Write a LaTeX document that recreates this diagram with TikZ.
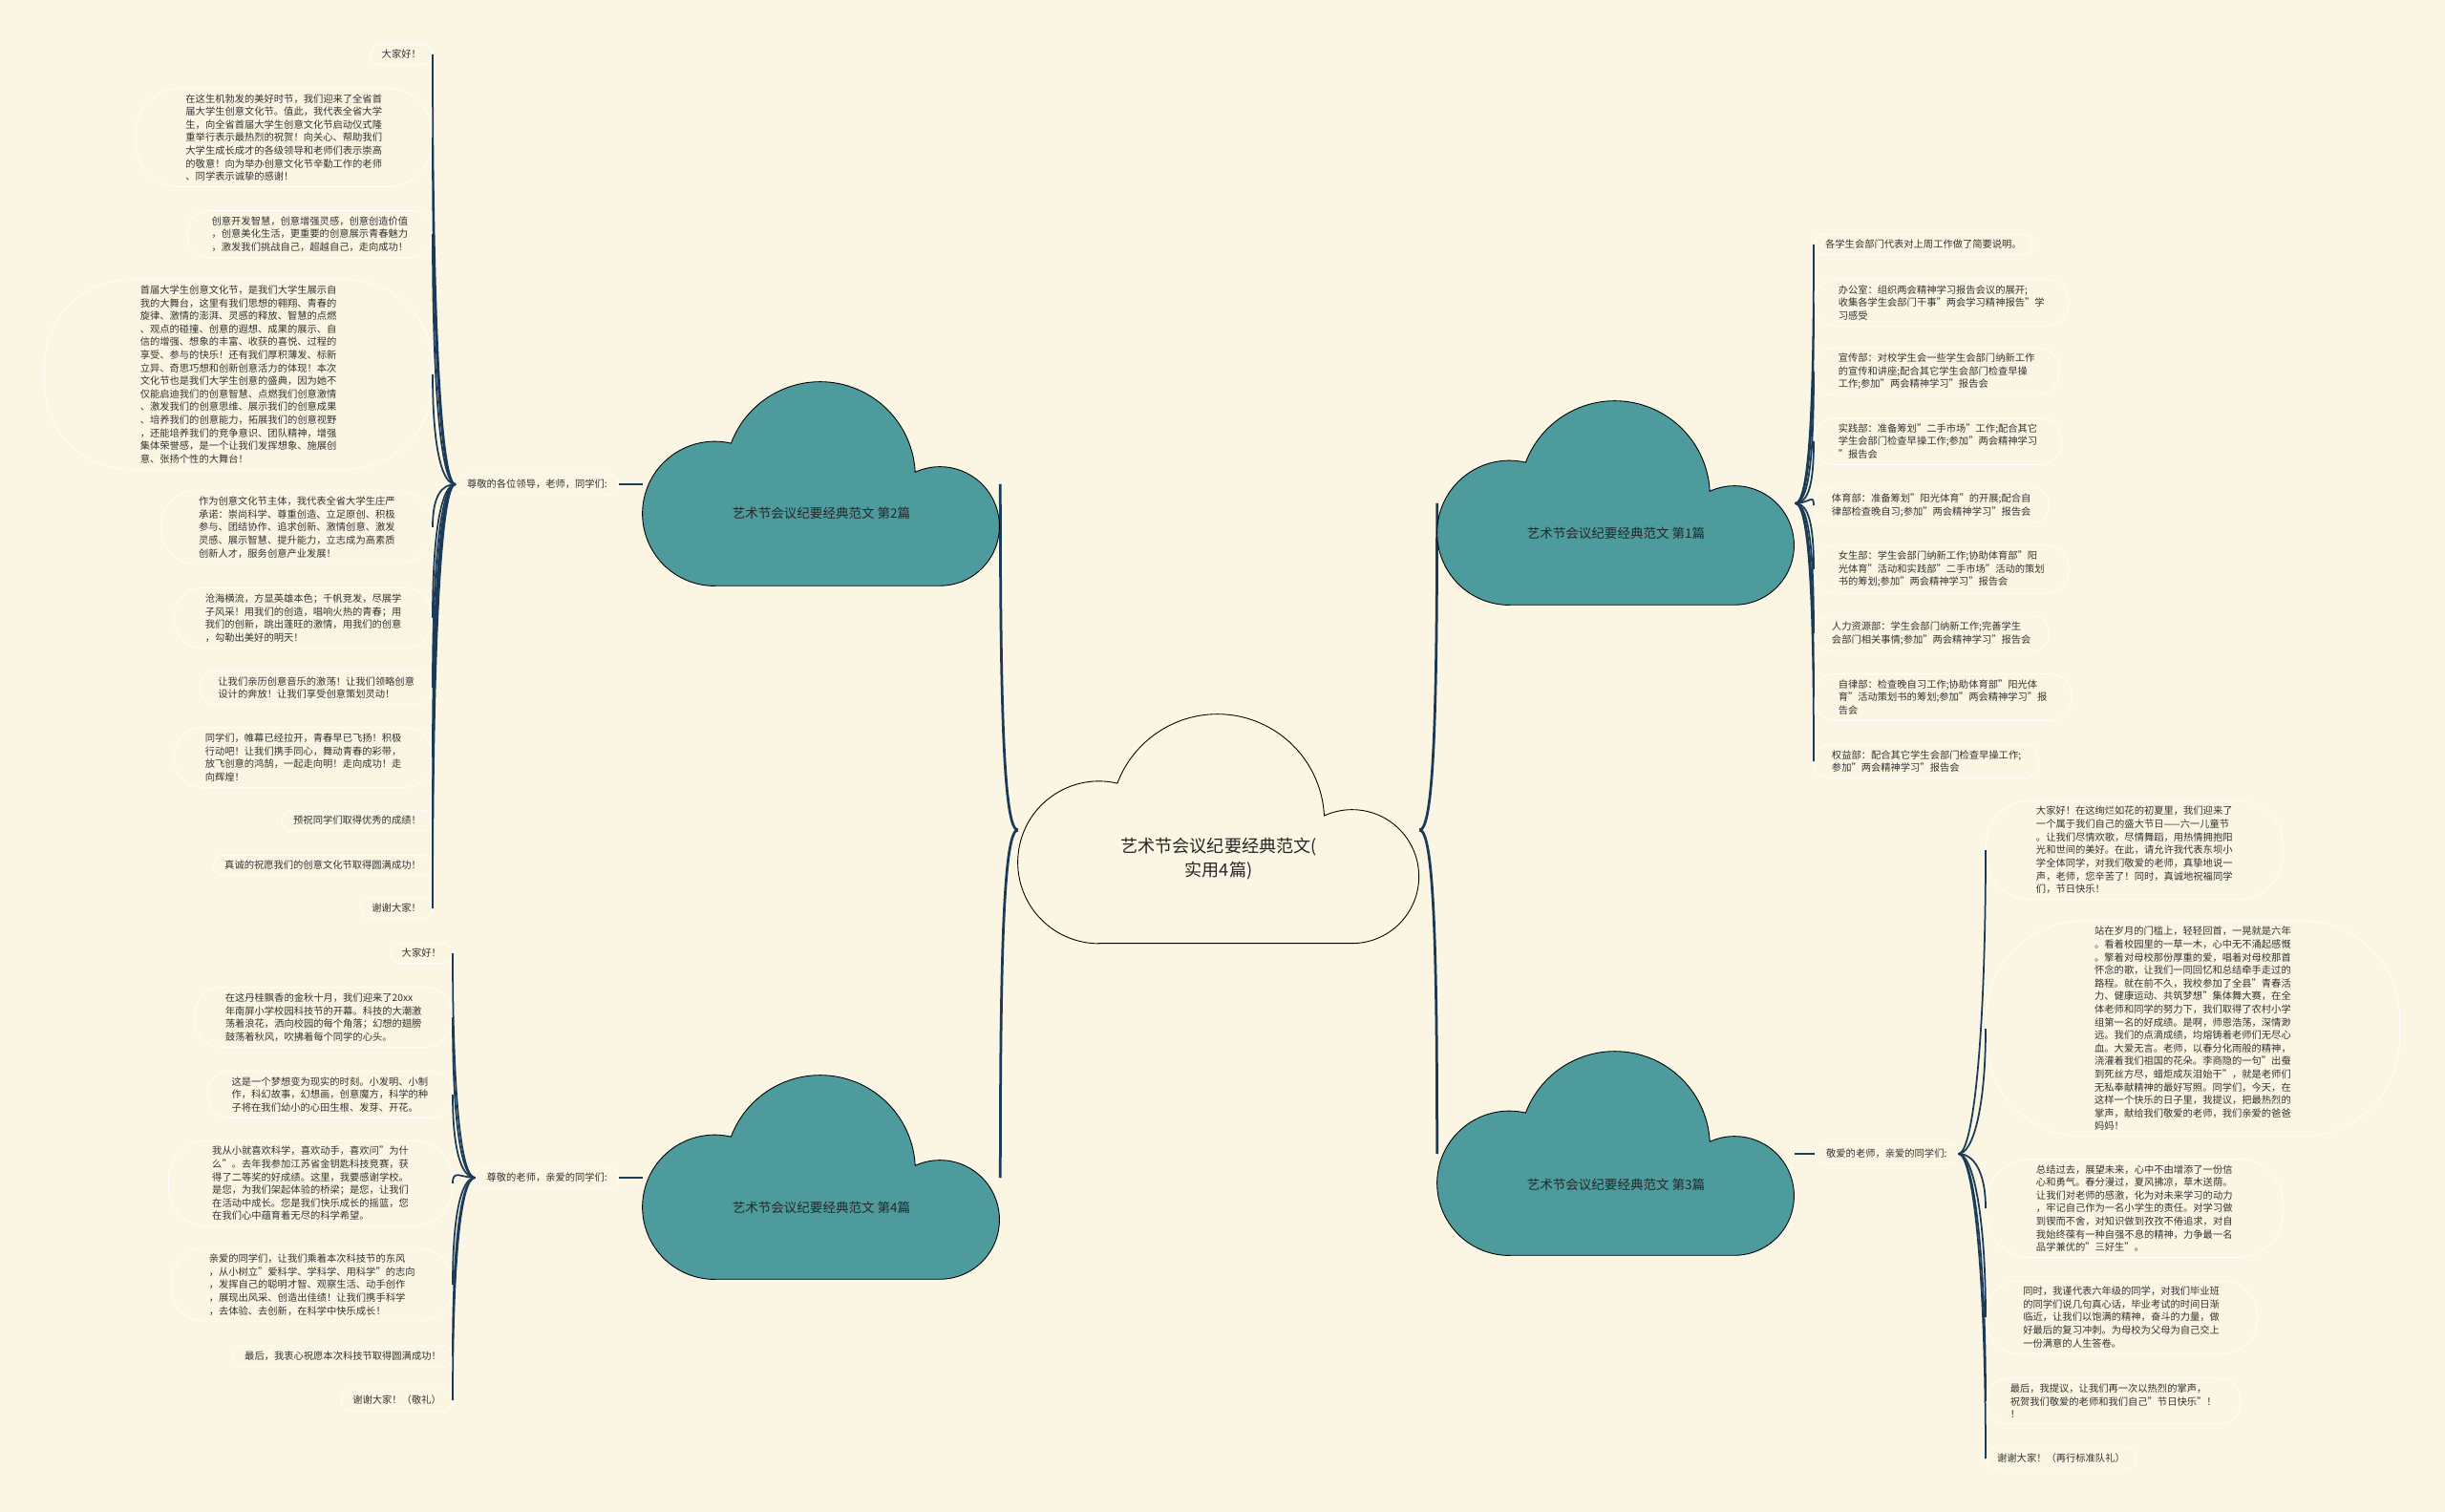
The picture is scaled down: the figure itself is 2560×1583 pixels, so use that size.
\documentclass[tikz,border=0pt]{standalone}
\usepackage{fontspec}
\setmainfont{Noto Sans CJK SC}
\usepackage{tikz}
\usetikzlibrary{calc}
\definecolor{paperCream}{RGB}{250,246,227}
\definecolor{cloudTeal}{RGB}{77,155,156}
\definecolor{branchNavy}{RGB}{27,58,87}
\definecolor{inkGray}{RGB}{51,51,51}

\begin{document}
\begin{tikzpicture}[
    x=0.2mm, y=0.2mm,
    leaf/.style={draw=white, line width=0.4pt, text=inkGray, align=left,
      font=\fontsize{5.85}{7.74}\selectfont, inner ysep=1.2mm,
      inner xsep={1mm+#1*1.36mm}, rounded corners={0.78mm+#1*1.22mm}},
    cloudbox/.style={inner sep=0pt, minimum width=74.8mm, minimum height=42.8mm},
    rootbox/.style={inner sep=0pt, minimum width=84mm, minimum height=48.4mm},
    cloudtext/.style={text=black!85, font=\fontsize{7.7}{9}\selectfont},
    bough/.style={branchNavy, line width=0.55mm},
    twig/.style={branchNavy, line width=0.35mm},
    lup/.style={out=180, in=-90, out distance=3mm, in looseness=1.6},
    ldown/.style={out=180, in=90, out distance=3mm, in looseness=1.6},
    rup/.style={out=0, in=-90, out distance=3mm, in looseness=1.6},
    rdown/.style={out=0, in=90, out distance=3mm, in looseness=1.6},
    pics/cloudbody/.style={code={
      \path[pic actions] (85,-240) -- (350,-240)
        arc[start angle=-90, end angle=114.6, radius=70]
        arc[start angle=2.9, end angle=159.3, radius=112]
        arc[start angle=76.9, end angle=270, radius=85] -- cycle;
    }}
  ]
  \useasboundingbox (0,0) rectangle (2560,-1583);
  \fill[paperCream] (0,0) rectangle (2560,-1583);

  % Cloud boxes (shapes drawn further down)
  \node[rootbox] (c0) at (1276,-869) {};
  \node[cloudbox] (c2) at (860,-507) {};
  \node[cloudbox] (c4) at (860,-1233) {};
  \node[cloudbox] (c1) at (1692,-527) {};
  \node[cloudbox] (c3) at (1692,-1208) {};

  % Branch labels
  \node[leaf=1, anchor=east] (lbl2) at (648,-507) {尊敬的各位领导，老师，同学们:};
  \node[leaf=1, anchor=east] (lbl4) at (648,-1233) {尊敬的老师，亲爱的同学们:};
  \node[leaf=1, anchor=west] (lbl3) at (1900,-1208) {敬爱的老师，亲爱的同学们:};

  % Leaves of part 2 (upper left)
  \node[leaf=1, anchor=east] (l2a) at (453,-57) {大家好！};
  \node[leaf=7, anchor=east] (l2b) at (453,-144) {在这生机勃发的美好时节，我们迎来了全省首\\届大学生创意文化节。值此，我代表全省大学\\生，向全省首届大学生创意文化节启动仪式隆\\重举行表示最热烈的祝贺！向关心、帮助我们\\大学生成长成才的各级领导和老师们表示崇高\\的敬意！向为举办创意文化节辛勤工作的老师\\、同学表示诚挚的感谢！};
  \node[leaf=3, anchor=east] (l2c) at (453,-245) {创意开发智慧，创意增强灵感，创意创造价值\\，创意美化生活，更重要的创意展示青春魅力\\，激发我们挑战自己，超越自己，走向成功！};
  \node[leaf=14, anchor=east] (l2d) at (453,-392) {首届大学生创意文化节，是我们大学生展示自\\我的大舞台，这里有我们思想的翱翔、青春的\\旋律、激情的澎湃、灵感的释放、智慧的点燃\\、观点的碰撞、创意的遐想、成果的展示、自\\信的增强、想象的丰富、收获的喜悦、过程的\\享受、参与的快乐！还有我们厚积薄发、标新\\立异、奇思巧想和创新创意活力的体现！本次\\文化节也是我们大学生创意的盛典，因为她不\\仅能启迪我们的创意智慧、点燃我们创意激情\\、激发我们的创意思维、展示我们的创意成果\\、培养我们的创意能力，拓展我们的创意视野\\，还能培养我们的竞争意识、团队精神，增强\\集体荣誉感，是一个让我们发挥想象、施展创\\意、张扬个性的大舞台！};
  \node[leaf=5, anchor=east] (l2e) at (453,-552) {作为创意文化节主体，我代表全省大学生庄严\\承诺：崇尚科学、尊重创造、立足原创、积极\\参与、团结协作、追求创新、激情创意、激发\\灵感、展示智慧、提升能力，立志成为高素质\\创新人才，服务创意产业发展！};
  \node[leaf=4, anchor=east] (l2f) at (453,-647) {沧海横流，方显英雄本色；千帆竞发，尽展学\\子风采！用我们的创造，唱响火热的青春；用\\我们的创新，跳出蓬旺的激情，用我们的创意\\，勾勒出美好的明天！};
  \node[leaf=2, anchor=east] (l2g) at (453,-720) {让我们亲历创意音乐的激荡！让我们领略创意\\设计的奔放！让我们享受创意策划灵动！};
  \node[leaf=4, anchor=east] (l2h) at (453,-793) {同学们，帷幕已经拉开，青春早已飞扬！积极\\行动吧！让我们携手同心，舞动青春的彩带，\\放飞创意的鸿鹄，一起走向明！走向成功！走\\向辉煌！};
  \node[leaf=1, anchor=east] (l2i) at (453,-859) {预祝同学们取得优秀的成绩！};
  \node[leaf=1, anchor=east] (l2j) at (453,-906) {真诚的祝愿我们的创意文化节取得圆满成功！};
  \node[leaf=1, anchor=east] (l2k) at (453,-951) {谢谢大家！};

  % Leaves of part 4 (lower left)
  \node[leaf=1, anchor=east] (l4a) at (474,-998) {大家好！};
  \node[leaf=4, anchor=east] (l4b) at (474,-1065) {在这丹桂飘香的金秋十月，我们迎来了20xx\\年南屏小学校园科技节的开幕。科技的大潮激\\荡着浪花，洒向校园的每个角落；幻想的翅膀\\鼓荡着秋风，吹拂着每个同学的心头。};
  \node[leaf=3, anchor=east] (l4c) at (474,-1146) {这是一个梦想变为现实的时刻。小发明、小制\\作，科幻故事，幻想画，创意魔方，科学的种\\子将在我们幼小的心田生根、发芽、开花。};
  \node[leaf=6, anchor=east] (l4d) at (474,-1239) {我从小就喜欢科学，喜欢动手，喜欢问"为什\\么"。去年我参加江苏省金钥匙科技竞赛，获\\得了二等奖的好成绩。这里，我要感谢学校。\\是您，为我们架起体验的桥梁；是您，让我们\\在活动中成长。您是我们快乐成长的摇篮，您\\在我们心中蕴育着无尽的科学希望。};
  \node[leaf=5, anchor=east] (l4e) at (474,-1345) {亲爱的同学们，让我们乘着本次科技节的东风\\，从小树立"爱科学、学科学、用科学"的志向\\，发挥自己的聪明才智、观察生活、动手创作\\，展现出风采、创造出佳绩！让我们携手科学\\，去体验、去创新，在科学中快乐成长！};
  \node[leaf=1, anchor=east] (l4f) at (474,-1420) {最后，我衷心祝愿本次科技节取得圆满成功！};
  \node[leaf=1, anchor=east] (l4g) at (474,-1466) {谢谢大家！（敬礼）};

  % Leaves of part 1 (upper right)
  \node[leaf=1, anchor=west] (l1a) at (1899,-256) {各学生会部门代表对上周工作做了简要说明。};
  \node[leaf=3, anchor=west] (l1b) at (1899,-317) {办公室：组织两会精神学习报告会议的展开;\\收集各学生会部门干事"两会学习精神报告"学\\习感受};
  \node[leaf=3, anchor=west] (l1c) at (1899,-389) {宣传部：对校学生会一些学生会部门纳新工作\\的宣传和讲座;配合其它学生会部门检查早操\\工作;参加"两会精神学习"报告会};
  \node[leaf=3, anchor=west] (l1d) at (1899,-462) {实践部：准备筹划"二手市场"工作;配合其它\\学生会部门检查早操工作;参加"两会精神学习\\"报告会};
  \node[leaf=2, anchor=west] (l1e) at (1899,-529) {体育部：准备筹划"阳光体育"的开展;配合自\\律部检查晚自习;参加"两会精神学习"报告会};
  \node[leaf=3, anchor=west] (l1f) at (1899,-596) {女生部：学生会部门纳新工作;协助体育部"阳\\光体育"活动和实践部"二手市场"活动的策划\\书的筹划;参加"两会精神学习"报告会};
  \node[leaf=2, anchor=west] (l1g) at (1899,-663) {人力资源部：学生会部门纳新工作;完善学生\\会部门相关事情;参加"两会精神学习"报告会};
  \node[leaf=3, anchor=west] (l1h) at (1899,-730) {自律部：检查晚自习工作;协助体育部"阳光体\\育"活动策划书的筹划;参加"两会精神学习"报\\告会};
  \node[leaf=2, anchor=west] (l1i) at (1899,-797) {权益部：配合其它学生会部门检查早操工作;\\参加"两会精神学习"报告会};

  % Leaves of part 3 (lower right)
  \node[leaf=7, anchor=west] (l3a) at (2079,-890) {大家好！在这绚烂如花的初夏里，我们迎来了\\一个属于我们自己的盛大节日——六一儿童节\\。让我们尽情欢歌，尽情舞蹈，用热情拥抱阳\\光和世间的美好。在此，请允许我代表东坝小\\学全体同学，对我们敬爱的老师，真挚地说一\\声，老师，您辛苦了！同时，真诚地祝福同学\\们，节日快乐！};
  \node[leaf=16, anchor=west] (l3b) at (2079,-1077) {站在岁月的门槛上，轻轻回首，一晃就是六年\\。看着校园里的一草一木，心中无不涌起感慨\\。擎着对母校那份厚重的爱，唱着对母校那首\\怀念的歌，让我们一同回忆和总结牵手走过的\\路程。就在前不久，我校参加了全县"青春活\\力、健康运动、共筑梦想"集体舞大赛，在全\\体老师和同学的努力下，我们取得了农村小学\\组第一名的好成绩。是啊，师恩浩荡，深情渺\\远。我们的点滴成绩，均熔铸着老师们无尽心\\血。大爱无言。老师，以春分化雨般的精神，\\浇灌着我们祖国的花朵。李商隐的一句"出蚕\\到死丝方尽，蜡炬成灰泪始干"，就是老师们\\无私奉献精神的最好写照。同学们，今天，在\\这样一个快乐的日子里，我提议，把最热烈的\\掌声，献给我们敬爱的老师，我们亲爱的爸爸\\妈妈！};
  \node[leaf=7, anchor=west] (l3c) at (2079,-1265) {总结过去，展望未来，心中不由增添了一份信\\心和勇气。春分漫过，夏风拂凉，草木送荫。\\让我们对老师的感激，化为对未来学习的动力\\，牢记自己作为一名小学生的责任。对学习做\\到锲而不舍，对知识做到孜孜不倦追求，对自\\我始终葆有一种自强不息的精神，力争最一名\\品学兼优的"三好生"。};
  \node[leaf=5, anchor=west] (l3d) at (2079,-1379) {同时，我谨代表六年级的同学，对我们毕业班\\的同学们说几句真心话，毕业考试的时间日渐\\临近，让我们以饱满的精神，奋斗的力量，做\\好最后的复习冲刺。为母校为父母为自己交上\\一份满意的人生答卷。};
  \node[leaf=3, anchor=west] (l3e) at (2079,-1467) {最后，我提议，让我们再一次以热烈的掌声，\\祝贺我们敬爱的老师和我们自己"节日快乐"！\\！};
  \node[leaf=1, anchor=west] (l3f) at (2079,-1527) {谢谢大家！（再行标准队礼）};

  % Main branches
  \draw[bough] (c0.west) to[lup] (c2.east); \draw[bough] (c0.west) to[ldown] (c4.east);
  \draw[bough] (c0.east) to[rup] (c1.west); \draw[bough] (c0.east) to[rdown] (c3.west);
  \draw[bough] (c2.west) -- (lbl2.east); \draw[bough] (c4.west) -- (lbl4.east);
  \draw[bough] (c3.east) -- (lbl3.west);

  % Twigs, part 2
  \draw[twig] (lbl2.west) to[lup] (l2a.east); \draw[twig] (lbl2.west) to[lup] (l2b.east);
  \draw[twig] (lbl2.west) to[lup] (l2c.east); \draw[twig] (lbl2.west) to[lup] (l2d.east);
  \draw[twig] (lbl2.west) to[ldown] (l2e.east); \draw[twig] (lbl2.west) to[ldown] (l2f.east);
  \draw[twig] (lbl2.west) to[ldown] (l2g.east); \draw[twig] (lbl2.west) to[ldown] (l2h.east);
  \draw[twig] (lbl2.west) to[ldown] (l2i.east); \draw[twig] (lbl2.west) to[ldown] (l2j.east);
  \draw[twig] (lbl2.west) to[ldown] (l2k.east);
  % Twigs, part 4
  \draw[twig] (lbl4.west) to[lup] (l4a.east); \draw[twig] (lbl4.west) to[lup] (l4b.east);
  \draw[twig] (lbl4.west) to[lup] (l4c.east); \draw[twig] (lbl4.west) to[ldown] (l4d.east);
  \draw[twig] (lbl4.west) to[ldown] (l4e.east); \draw[twig] (lbl4.west) to[ldown] (l4f.east);
  \draw[twig] (lbl4.west) to[ldown] (l4g.east);
  % Twigs, part 1
  \draw[twig] (c1.east) to[rup] (l1a.west); \draw[twig] (c1.east) to[rup] (l1b.west);
  \draw[twig] (c1.east) to[rup] (l1c.west); \draw[twig] (c1.east) to[rup] (l1d.west);
  \draw[twig] (c1.east) to[rdown] (l1e.west); \draw[twig] (c1.east) to[rdown] (l1f.west);
  \draw[twig] (c1.east) to[rdown] (l1g.west); \draw[twig] (c1.east) to[rdown] (l1h.west);
  \draw[twig] (c1.east) to[rdown] (l1i.west);
  % Twigs, part 3
  \draw[twig] (lbl3.east) to[rup] (l3a.west); \draw[twig] (lbl3.east) to[rup] (l3b.west);
  \draw[twig] (lbl3.east) to[rdown] (l3c.west); \draw[twig] (lbl3.east) to[rdown] (l3d.west);
  \draw[twig] (lbl3.east) to[rdown] (l3e.west); \draw[twig] (lbl3.east) to[rdown] (l3f.west);

  % Clouds and their titles
  \pic[draw=black, fill=paperCream, line width=0.5pt] at (c0.north west) {cloudbody};
  \node[align=center, text=black!85, font=\fontsize{10.3}{14.2}\selectfont] (c0t) at (1276,-899) {艺术节会议纪要经典范文(\\实用4篇)};
  \pic[draw=black, fill=cloudTeal, line width=0.5pt, scale=0.89] at (c2.north west) {cloudbody};
  \node[cloudtext] (c2t) at (860,-537) {艺术节会议纪要经典范文 第2篇};
  \pic[draw=black, fill=cloudTeal, line width=0.5pt, scale=0.89] at (c4.north west) {cloudbody};
  \node[cloudtext] (c4t) at (860,-1264) {艺术节会议纪要经典范文 第4篇};
  \pic[draw=black, fill=cloudTeal, line width=0.5pt, scale=0.89] at (c1.north west) {cloudbody};
  \node[cloudtext] (c1t) at (1692,-558) {艺术节会议纪要经典范文 第1篇};
  \pic[draw=black, fill=cloudTeal, line width=0.5pt, scale=0.89] at (c3.north west) {cloudbody};
  \node[cloudtext] (c3t) at (1692,-1240) {艺术节会议纪要经典范文 第3篇};
\end{tikzpicture}
\end{document}
